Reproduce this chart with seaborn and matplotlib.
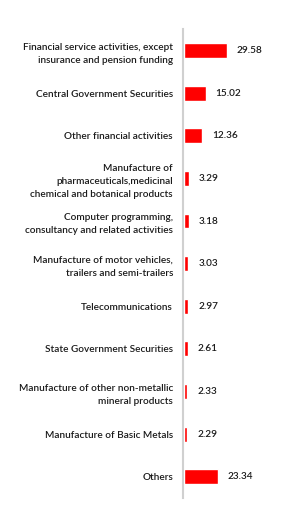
import matplotlib
matplotlib.use("Agg")
import matplotlib.pyplot as plt
import seaborn as sns
import pandas as pd

sectors = [
    "Financial service activities, except\ninsurance and pension funding",
    "Central Government Securities",
    "Other financial activities",
    "Manufacture of\npharmaceuticals,medicinal\nchemical and botanical products",
    "Computer programming,\nconsultancy and related activities",
    "Manufacture of motor vehicles,\ntrailers and semi-trailers",
    "Telecommunications",
    "State Government Securities",
    "Manufacture of other non-metallic\nmineral products",
    "Manufacture of Basic Metals",
    "Others",
]
weights = [29.58, 15.02, 12.36, 3.29, 3.18, 3.03, 2.97, 2.61, 2.33, 2.29, 23.34]

df = pd.DataFrame({"sector": sectors, "weight": weights})

sns.set_style("white")
plt.rcParams["font.family"] = ["Lato", "DejaVu Sans"]

fig = plt.figure(figsize=(2.89, 5.31), dpi=100)
ax = fig.add_axes([0.637, 0.062, 0.333, 0.883])

sns.barplot(data=df, x="weight", y="sector", orient="h", color="#ff0000",
            saturation=1, width=0.35, ax=ax, zorder=3)

ax.set_xlim(0, 67)
ax.set_xlabel("")
ax.set_ylabel("")
ax.set_xticks([])
for s in ["top", "right", "bottom"]:
    ax.spines[s].set_visible(False)
ax.spines["left"].set_color("#d0d0d0")
ax.spines["left"].set_linewidth(1.5)
ax.spines["left"].set_position(("outward", 1))
ax.tick_params(axis="y", length=0, pad=7)
for lbl in ax.get_yticklabels():
    lbl.set_fontsize(7.2)
    lbl.set_fontweight("semibold")
    lbl.set_color("#1a1a1a")
    lbl.set_multialignment("right")
    lbl.set_linespacing(1.6)

# value labels ~10px right of each bar
for i, v in enumerate(weights):
    ax.annotate(f"{v:.2f}", xy=(v, i), xytext=(7.2, 0), textcoords="offset points",
                va="center", ha="left", fontsize=7.2, fontweight="semibold",
                color="#1a1a1a")

fig.savefig("out.png", dpi=100)
